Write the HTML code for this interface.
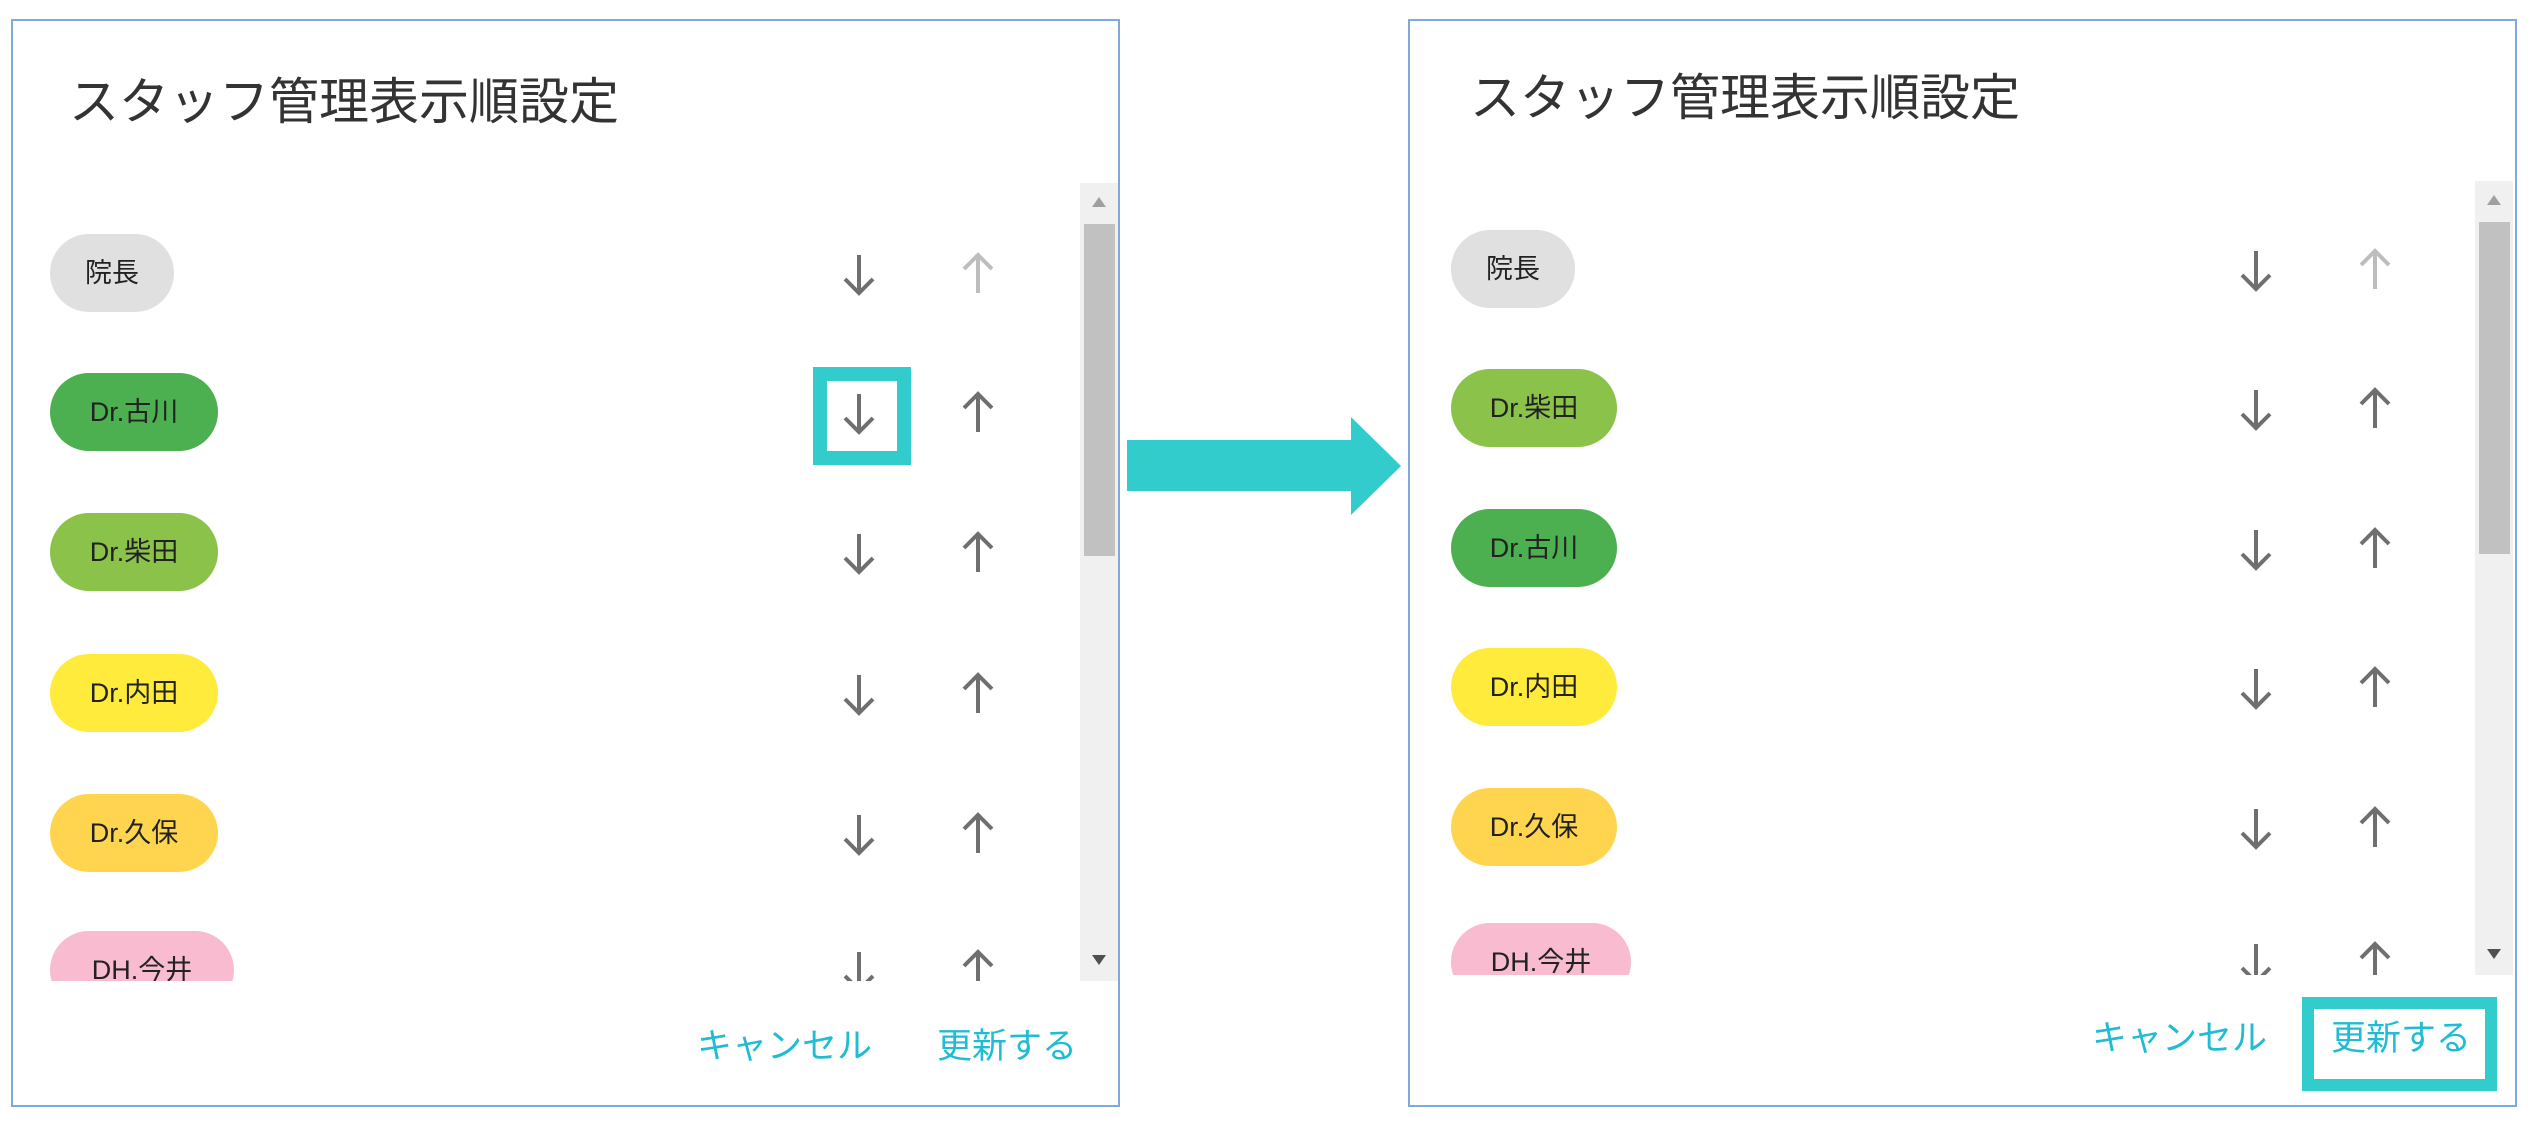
<!DOCTYPE html>
<html><head><meta charset="utf-8">
<style>
*{margin:0;padding:0;box-sizing:border-box}
body{width:2530px;height:1131px;background:#fff;position:relative;overflow:hidden;font-family:"Liberation Sans","Noto Sans CJK JP",sans-serif}
.panel{position:absolute;top:19px;width:1109px;height:1088px;border:2px solid #7fa9d9;background:#fff}
.title{position:absolute;left:56px;top:51px;font-size:50px;color:#333;line-height:60px;white-space:nowrap}
.list{position:absolute;left:0;top:162px;width:1105px;height:798px;overflow:hidden}
.row{position:absolute;left:0;width:1060px;height:80px}
.chip{position:absolute;left:37px;top:1px;height:78px;border-radius:39px;font-size:27px;line-height:78px;text-align:center;color:#222}
.ar{position:absolute;top:18px;width:46px;height:46px}
.dn{left:823px}.up{left:942px}
.sb{position:absolute;left:1067px;top:0;width:38px;height:798px;background:#f0f0f0}
.th{position:absolute;left:4px;top:41px;width:31px;height:332px;background:#c1c1c1}
.tri{position:absolute;left:12px;width:0;height:0;border-left:7px solid transparent;border-right:7px solid transparent}
.btn{position:absolute;top:1004px;font-size:35px;color:#1fbcd2;line-height:44px;white-space:nowrap}
</style></head><body>

<!-- LEFT PANEL -->
<div class="panel" style="left:11px">
 <div class="title">スタッフ管理表示順設定</div>
 <div class="list">
  <div class="row" style="top:50px"><div class="chip" style="width:124px;background:#e0e0e0">院長</div>
   <svg class="ar dn" viewBox="0 0 46 46"><path d="M23 4V42M9 28L23 42L37 28" stroke="#6f6f6f" stroke-width="4" fill="none"/></svg>
   <svg class="ar up" viewBox="0 0 46 46"><path d="M23 42V4M9 18L23 4L37 18" stroke="#bdbdbd" stroke-width="4" fill="none"/></svg></div>
  <div class="row" style="top:189px"><div class="chip" style="width:168px;background:#4caf50">Dr.古川</div>
   <svg class="ar dn" viewBox="0 0 46 46"><path d="M23 4V42M9 28L23 42L37 28" stroke="#6f6f6f" stroke-width="4" fill="none"/></svg>
   <svg class="ar up" viewBox="0 0 46 46"><path d="M23 42V4M9 18L23 4L37 18" stroke="#6f6f6f" stroke-width="4" fill="none"/></svg></div>
  <div class="row" style="top:329px"><div class="chip" style="width:168px;background:#8bc34a">Dr.柴田</div>
   <svg class="ar dn" viewBox="0 0 46 46"><path d="M23 4V42M9 28L23 42L37 28" stroke="#6f6f6f" stroke-width="4" fill="none"/></svg>
   <svg class="ar up" viewBox="0 0 46 46"><path d="M23 42V4M9 18L23 4L37 18" stroke="#6f6f6f" stroke-width="4" fill="none"/></svg></div>
  <div class="row" style="top:470px"><div class="chip" style="width:168px;background:#ffeb3b">Dr.内田</div>
   <svg class="ar dn" viewBox="0 0 46 46"><path d="M23 4V42M9 28L23 42L37 28" stroke="#6f6f6f" stroke-width="4" fill="none"/></svg>
   <svg class="ar up" viewBox="0 0 46 46"><path d="M23 42V4M9 18L23 4L37 18" stroke="#6f6f6f" stroke-width="4" fill="none"/></svg></div>
  <div class="row" style="top:610px"><div class="chip" style="width:168px;background:#ffd54f">Dr.久保</div>
   <svg class="ar dn" viewBox="0 0 46 46"><path d="M23 4V42M9 28L23 42L37 28" stroke="#6f6f6f" stroke-width="4" fill="none"/></svg>
   <svg class="ar up" viewBox="0 0 46 46"><path d="M23 42V4M9 18L23 4L37 18" stroke="#6f6f6f" stroke-width="4" fill="none"/></svg></div>
  <div class="row" style="top:747px"><div class="chip" style="width:184px;background:#f8bbd0">DH.今井</div>
   <svg class="ar dn" viewBox="0 0 46 46"><path d="M23 4V42M9 28L23 42L37 28" stroke="#6f6f6f" stroke-width="4" fill="none"/></svg>
   <svg class="ar up" viewBox="0 0 46 46"><path d="M23 42V4M9 18L23 4L37 18" stroke="#6f6f6f" stroke-width="4" fill="none"/></svg></div>
  <div class="sb"><div class="tri" style="top:14px;border-bottom:10px solid #a0a0a0"></div><div class="th"></div><div class="tri" style="top:772px;border-top:10px solid #505050"></div></div>
 </div>
 <div class="btn" style="left:684px">キャンセル</div>
 <div class="btn" style="left:924px">更新する</div>
</div>
<div style="position:absolute;left:813px;top:367px;width:98px;height:98px;border:14px solid #33cccc"></div>

<!-- ARROW -->
<div style="position:absolute;left:1127px;top:440px;width:226px;height:51px;background:#33cccc"></div>
<div style="position:absolute;left:1351px;top:417px;width:0;height:0;border-top:49px solid transparent;border-bottom:49px solid transparent;border-left:50px solid #33cccc"></div>

<!-- RIGHT PANEL -->
<div class="panel" style="left:1408px">
 <div class="title" style="left:60px;top:47px">スタッフ管理表示順設定</div>
 <div class="list" style="top:160px;height:794px">
  <div class="row" style="top:48px"><div class="chip" style="left:41px;width:124px;background:#e0e0e0">院長</div>
   <svg class="ar dn" viewBox="0 0 46 46"><path d="M23 4V42M9 28L23 42L37 28" stroke="#6f6f6f" stroke-width="4" fill="none"/></svg>
   <svg class="ar up" viewBox="0 0 46 46"><path d="M23 42V4M9 18L23 4L37 18" stroke="#bdbdbd" stroke-width="4" fill="none"/></svg></div>
  <div class="row" style="top:187px"><div class="chip" style="left:41px;width:166px;background:#8bc34a">Dr.柴田</div>
   <svg class="ar dn" viewBox="0 0 46 46"><path d="M23 4V42M9 28L23 42L37 28" stroke="#6f6f6f" stroke-width="4" fill="none"/></svg>
   <svg class="ar up" viewBox="0 0 46 46"><path d="M23 42V4M9 18L23 4L37 18" stroke="#6f6f6f" stroke-width="4" fill="none"/></svg></div>
  <div class="row" style="top:327px"><div class="chip" style="left:41px;width:166px;background:#4caf50">Dr.古川</div>
   <svg class="ar dn" viewBox="0 0 46 46"><path d="M23 4V42M9 28L23 42L37 28" stroke="#6f6f6f" stroke-width="4" fill="none"/></svg>
   <svg class="ar up" viewBox="0 0 46 46"><path d="M23 42V4M9 18L23 4L37 18" stroke="#6f6f6f" stroke-width="4" fill="none"/></svg></div>
  <div class="row" style="top:466px"><div class="chip" style="left:41px;width:166px;background:#ffeb3b">Dr.内田</div>
   <svg class="ar dn" viewBox="0 0 46 46"><path d="M23 4V42M9 28L23 42L37 28" stroke="#6f6f6f" stroke-width="4" fill="none"/></svg>
   <svg class="ar up" viewBox="0 0 46 46"><path d="M23 42V4M9 18L23 4L37 18" stroke="#6f6f6f" stroke-width="4" fill="none"/></svg></div>
  <div class="row" style="top:606px"><div class="chip" style="left:41px;width:166px;background:#ffd54f">Dr.久保</div>
   <svg class="ar dn" viewBox="0 0 46 46"><path d="M23 4V42M9 28L23 42L37 28" stroke="#6f6f6f" stroke-width="4" fill="none"/></svg>
   <svg class="ar up" viewBox="0 0 46 46"><path d="M23 42V4M9 18L23 4L37 18" stroke="#6f6f6f" stroke-width="4" fill="none"/></svg></div>
  <div class="row" style="top:741px"><div class="chip" style="left:41px;width:180px;background:#f8bbd0">DH.今井</div>
   <svg class="ar dn" viewBox="0 0 46 46"><path d="M23 4V42M9 28L23 42L37 28" stroke="#6f6f6f" stroke-width="4" fill="none"/></svg>
   <svg class="ar up" viewBox="0 0 46 46"><path d="M23 42V4M9 18L23 4L37 18" stroke="#6f6f6f" stroke-width="4" fill="none"/></svg></div>
  <div class="sb" style="left:1065px;height:794px"><div class="tri" style="top:14px;border-bottom:10px solid #a0a0a0"></div><div class="th"></div><div class="tri" style="top:768px;border-top:10px solid #505050"></div></div>
 </div>
 <div class="btn" style="left:682px;top:996px">キャンセル</div>
 <div class="btn" style="left:921px;top:996px">更新する</div>
</div>
<div style="position:absolute;left:2302px;top:997px;width:195px;height:94px;border:12px solid #33cccc"></div>

</body></html>
